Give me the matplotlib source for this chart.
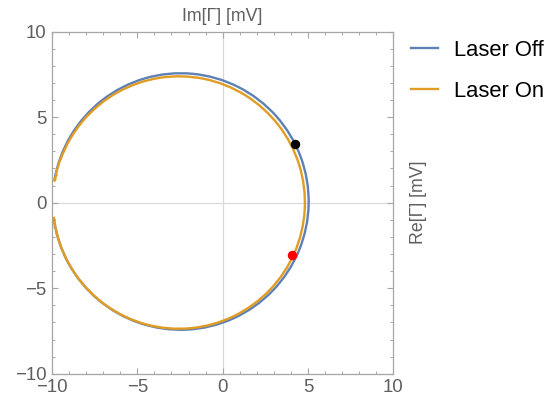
import matplotlib.pyplot as plt
from matplotlib.patches import Arc
from matplotlib.lines import Line2D
from matplotlib.ticker import MultipleLocator

plt.rcParams['font.family'] = ['Liberation Sans', 'DejaVu Sans']

# fitted resonance circles (Re, Im in mV): centre, radius, swept angle range
off_center = (-2.46, 0.07)
off_radius = 7.50
off_theta = (-173, 170.6)

on_center = (-2.56, 0.01)
on_radius = 7.38
on_theta = (-166, 160)

# noisy off-resonance ends of the laser-on trace
on_tail_low_re = [-9.90, -9.84, -9.88, -9.81, -9.85, -9.76, -9.72]
on_tail_low_im = [-0.89, -1.02, -1.15, -1.30, -1.42, -1.58, -1.78]
on_tail_high_re = [-9.50, -9.60, -9.64, -9.70, -9.76, -9.73, -9.82, -9.79, -9.85]
on_tail_high_im = [2.53, 2.30, 2.12, 1.95, 1.75, 1.62, 1.48, 1.38, 1.29]

# marked frequencies
pt_black = (4.22, 3.45)
pt_red = (4.08, -3.08)

blue = '#5E81B5'
orange = '#E19C24'
frame_gray = '#A6A6A6'
label_gray = '#5F5F5F'
lw = 1.7

fig = plt.figure(figsize=(5.55, 4.07), dpi=100)
ax = fig.add_axes([52 / 555, 1 - 373.7 / 407, 341.3 / 555, 342 / 407])

ax.axhline(0, color='#D9D9D9', lw=0.9, zorder=0)
ax.axvline(0, color='#D9D9D9', lw=0.9, zorder=0)

ax.add_patch(Arc(off_center, 2 * off_radius, 2 * off_radius,
                 theta1=off_theta[0], theta2=off_theta[1],
                 color=blue, lw=lw, zorder=2))
ax.add_patch(Arc(on_center, 2 * on_radius, 2 * on_radius,
                 theta1=on_theta[0], theta2=on_theta[1],
                 color=orange, lw=lw, zorder=3))
ax.plot(on_tail_low_re, on_tail_low_im, color=orange, lw=lw, zorder=3)
ax.plot(on_tail_high_re, on_tail_high_im, color=orange, lw=lw, zorder=3)

ax.plot(*pt_black, 'o', color='black', ms=5.8, zorder=4)
ax.plot(*pt_red, 'o', color='red', ms=5.8, zorder=4)

ax.set_xlim(-10, 10)
ax.set_ylim(-10, 10)
ax.xaxis.set_major_locator(MultipleLocator(5))
ax.yaxis.set_major_locator(MultipleLocator(5))
ax.xaxis.set_minor_locator(MultipleLocator(1))
ax.yaxis.set_minor_locator(MultipleLocator(1))
ax.tick_params(which='both', direction='in', top=True, right=True,
               color=frame_gray, labelcolor=label_gray, labelsize=13.4)
ax.tick_params(which='major', length=4.5, width=0.8, pad=4)
ax.tick_params(which='minor', length=2.5, width=0.7)
for s in ax.spines.values():
    s.set_color(frame_gray)
    s.set_linewidth(0.9)

ax.set_title('Im[Γ] [mV]', color=label_gray, fontsize=12.8, pad=7.5)
ax.yaxis.set_label_position('right')
ax.set_ylabel('Re[Γ] [mV]', color=label_gray, fontsize=12.8, labelpad=12)

handles = [Line2D([], [], color=blue, lw=lw), Line2D([], [], color=orange, lw=lw)]
fig.legend(handles, ['Laser Off', 'Laser On'], loc='upper left',
           bbox_to_anchor=(402 / 555, 1 - 31 / 407), frameon=False,
           fontsize=15.8, handlelength=1.25, handletextpad=0.7,
           labelspacing=0.9, borderaxespad=0)

fig.savefig('out.png', dpi=100)
